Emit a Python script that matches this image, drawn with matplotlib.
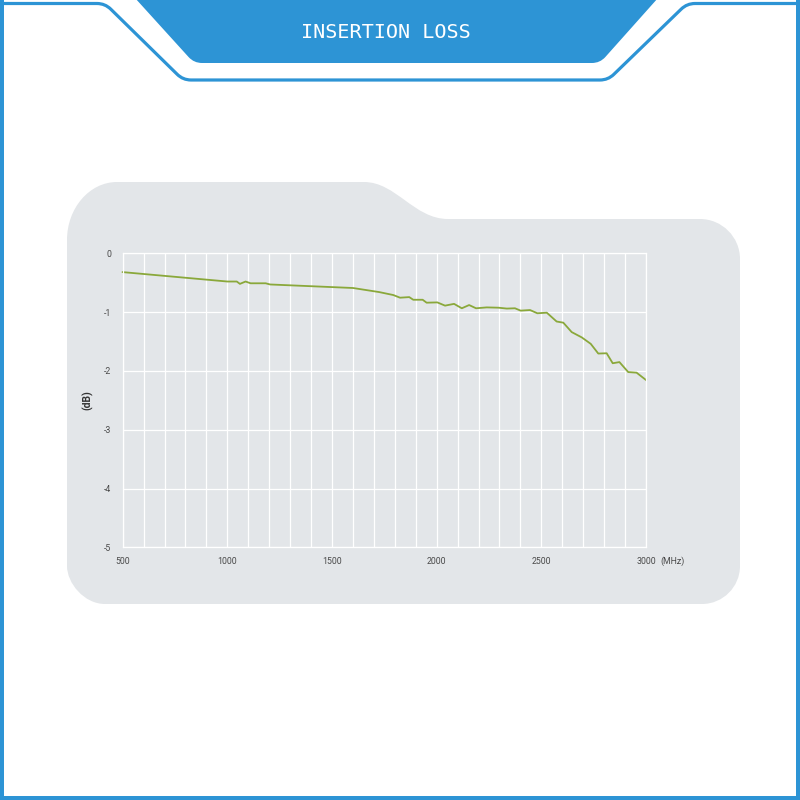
import matplotlib
matplotlib.use("Agg")
import matplotlib.pyplot as plt
from matplotlib.path import Path
from matplotlib.patches import PathPatch, Rectangle
import numpy as np

# Insertion loss measurement (MHz, dB)
freq_mhz = [500, 1000, 1045, 1060, 1087, 1111, 1183, 1204, 1600, 1726, 1793,
            1825, 1869, 1888, 1933, 1952, 2003, 2040, 2083, 2120, 2155, 2188,
            2239, 2295, 2335, 2374, 2401, 2446, 2481, 2526, 2573, 2605, 2645,
            2693, 2736, 2772, 2812, 2841, 2873, 2915, 2955, 3000]
loss_db = [-0.32, -0.48, -0.48, -0.52, -0.48, -0.51, -0.51, -0.53, -0.59, -0.66,
           -0.71, -0.755, -0.745, -0.79, -0.79, -0.84, -0.835, -0.89, -0.86,
           -0.935, -0.88, -0.935, -0.92, -0.925, -0.94, -0.935, -0.975, -0.965,
           -1.02, -1.01, -1.16, -1.18, -1.34, -1.43, -1.54, -1.705, -1.70, -1.87,
           -1.85, -2.02, -2.03, -2.155]

x_ticks = [500, 1000, 1500, 2000, 2500, 3000]
x_tick_labels = ["500", "1000", "1500", "2000", "2500", "3000"]
y_ticks = [0, -1, -2, -3, -4, -5]
y_tick_labels = ["0", "-1", "-2", "-3", "-4", "-5"]
title = "INSERTION LOSS"

BLUE = "#2D94D5"
PANEL = "#E3E6E9"
LINE = "#8AA83B"
TEXT = "#4A4A4A"

fig = plt.figure(figsize=(8, 8), dpi=100)
bg = fig.add_axes([0, 0, 1, 1])
bg.set_xlim(0, 800)
bg.set_ylim(800, 0)
bg.axis("off")


def rounded_path(pts, radii, closed=True):
    verts, codes = [], []
    n = len(pts)
    for i, p in enumerate(pts):
        p = np.asarray(p, float)
        r = radii[i]
        end = (not closed) and (i == 0 or i == n - 1)
        if r == 0 or end:
            verts.append(p)
            codes.append(Path.MOVETO if i == 0 else Path.LINETO)
            continue
        prv = np.asarray(pts[i - 1], float)
        nxt = np.asarray(pts[(i + 1) % n], float)
        u1 = (prv - p) / np.linalg.norm(prv - p)
        u2 = (nxt - p) / np.linalg.norm(nxt - p)
        a, b = p + u1 * r, p + u2 * r
        verts += [a, p, b]
        codes += [Path.MOVETO if i == 0 else Path.LINETO, Path.CURVE3, Path.CURVE3]
    if closed:
        verts.append(verts[0])
        codes.append(Path.CLOSEPOLY)
    return Path(verts, codes)


# frame edges
bg.add_patch(Rectangle((0, 0), 3.5, 800, color=BLUE, lw=0))
bg.add_patch(Rectangle((796, 0), 4, 800, color=BLUE, lw=0))
bg.add_patch(Rectangle((0, 796), 800, 4, color=BLUE, lw=0))

# outline around the header
outline = rounded_path([(0, 3.5), (105, 3.5), (183, 80), (608, 80), (687, 3.5), (800, 3.5)],
                       [0, 8, 8, 8, 8, 0], closed=False)
bg.add_patch(PathPatch(outline, fill=False, edgecolor=BLUE, lw=2.3, capstyle="butt"))

# header banner
banner = rounded_path([(135, -2), (658, -2), (600, 63), (194, 63)], [0, 0, 8, 8])
bg.add_patch(PathPatch(banner, facecolor=BLUE, edgecolor="none"))
bg.text(386, 32, title, color="white", fontsize=14.5,
        family="DejaVu Sans Mono", ha="center", va="center")

# gray panel with tab
k = 0.55
pv = [(67, 240), (67, 240 - 58 * k), (117 - 50 * k, 182), (117, 182),
      (364, 182),
      (396, 182), (414, 219), (448, 219),
      (700, 219),
      (700 + 40 * k, 219), (740, 259 - 40 * k), (740, 259),
      (740, 566),
      (740, 566 + 38 * k), (702 + 38 * k, 604), (702, 604),
      (105, 604),
      (105 - 38 * k, 604), (67, 604 - 38 * k), (67, 566),
      (67, 240)]
pc = [Path.MOVETO, Path.CURVE4, Path.CURVE4, Path.CURVE4,
      Path.LINETO,
      Path.CURVE4, Path.CURVE4, Path.CURVE4,
      Path.LINETO,
      Path.CURVE4, Path.CURVE4, Path.CURVE4,
      Path.LINETO,
      Path.CURVE4, Path.CURVE4, Path.CURVE4,
      Path.LINETO,
      Path.CURVE4, Path.CURVE4, Path.CURVE4,
      Path.CLOSEPOLY]
bg.add_patch(PathPatch(Path(pv, pc), facecolor=PANEL, edgecolor="none"))

# chart
ax = fig.add_axes([122.7 / 800, (800 - 547.3) / 800, 523.3 / 800, 294 / 800])
ax.set_facecolor("none")
ax.set_xlim(500, 3000)
ax.set_ylim(-5, 0)
ax.set_xticks(x_ticks)
ax.set_xticklabels(x_tick_labels)
ax.set_xticks(np.arange(600, 3000, 100), minor=True)
ax.set_yticks(y_ticks)
ax.set_yticklabels(y_tick_labels)
ax.tick_params(which="both", length=0, labelsize=6.3, labelcolor=TEXT)
ax.tick_params(axis="x", pad=7)
ax.tick_params(axis="y", pad=8)
for lbl in ax.get_xticklabels() + ax.get_yticklabels():
    lbl.set_family("Roboto")
ax.grid(which="both", color="white", lw=0.9)
for s in ax.spines.values():
    s.set_color("white")
    s.set_linewidth(0.9)
ax.set_axisbelow(True)
ax.plot(freq_mhz, loss_db, color=LINE, lw=1.3, solid_joinstyle="round", clip_on=False)
ax.set_ylabel("(dB)", fontsize=7.5, fontweight="bold", color="#333333",
              family="Roboto", labelpad=8)
ax.text(1.027, -0.0296, "(MHz)", transform=ax.transAxes, fontsize=6.3, color=TEXT,
        family="Roboto", ha="left", va="top")

fig.savefig("out.png", dpi=100)
